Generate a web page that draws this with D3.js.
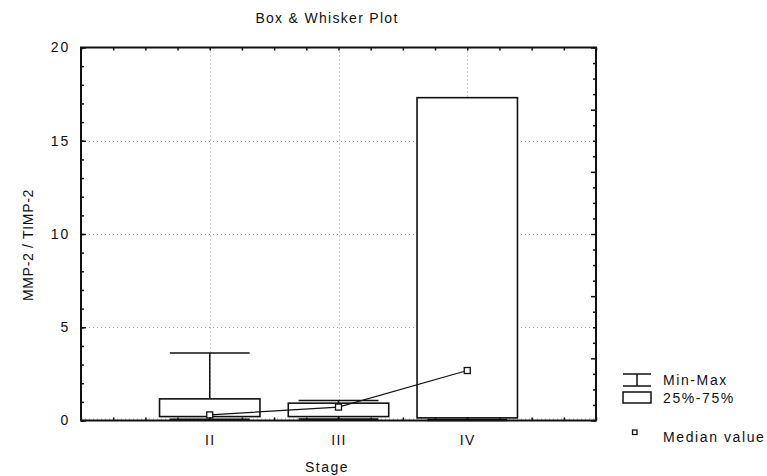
<!DOCTYPE html>
<html>
<head>
<meta charset="utf-8">
<script src="https://cdn.jsdelivr.net/npm/d3@7"></script>
<style>
  html, body { margin: 0; padding: 0; background: #fff; }
  svg text { font-family: "Liberation Sans", Arial, sans-serif; font-size: 14px; fill: #111; letter-spacing: 1.3px; }
</style>
</head>
<body>
<svg id="chart" width="767" height="476"></svg>
<script>
// Box & whisker summary for MMP-2 / TIMP-2 by tumour stage
const stages = ["II", "III", "IV"];
const minVals = [0.04, 0.05, 0.03];
const q1Vals = [0.21, 0.21, 0.14];
const medianVals = [0.30, 0.72, 2.68];
const q3Vals = [1.16, 0.93, 17.31];
const maxVals = [3.62, 1.07, 17.31];
const yTicks = [0, 5, 10, 15, 20];
const legendLabels = ["Min-Max", "25%-75%", "Median value"];

const svg = d3.select("#chart");
const L = 81, R = 596, T = 47.5, B = 420.5;

// categories sit at 1, 2, 3 on a 0..4 axis
const x = d3.scaleLinear().domain([0, 4]).range([L, R]);
const y = d3.scaleLinear().domain([0, 20]).range([B, T]);
const boxHalf = 0.39, capHalf = 0.31;

const data = stages.map((s, i) => ({
  stage: s, pos: i + 1,
  min: minVals[i], q1: q1Vals[i], med: medianVals[i], q3: q3Vals[i], max: maxVals[i]
}));

// dotted grid
const grid = svg.append("g").attr("stroke", "#a0a0a0").attr("stroke-width", 1)
  .attr("stroke-dasharray", "1,3");
grid.selectAll("line.h").data(yTicks.filter(v => v > 0 && v < 20)).join("line")
  .attr("x1", L).attr("x2", R).attr("y1", d => Math.round(y(d)) + 0.5).attr("y2", d => Math.round(y(d)) + 0.5);
grid.append("line").attr("x1", L).attr("x2", R).attr("y1", B - 1.5).attr("y2", B - 1.5);
grid.selectAll("line.v").data(data).join("line")
  .attr("x1", d => Math.round(x(d.pos)) + 0.5).attr("x2", d => Math.round(x(d.pos)) + 0.5)
  .attr("y1", T).attr("y2", B);

// whiskers
const wk = svg.append("g").attr("stroke", "#111").attr("stroke-width", 1.5);
data.forEach(d => {
  wk.append("line").attr("x1", x(d.pos)).attr("x2", x(d.pos)).attr("y1", y(d.q3)).attr("y2", y(d.max));
  wk.append("line").attr("x1", x(d.pos)).attr("x2", x(d.pos)).attr("y1", y(d.q1)).attr("y2", y(d.min));
  wk.append("line").attr("x1", x(d.pos - capHalf)).attr("x2", x(d.pos + capHalf)).attr("y1", y(d.max)).attr("y2", y(d.max));
  wk.append("line").attr("x1", x(d.pos - capHalf)).attr("x2", x(d.pos + capHalf)).attr("y1", y(d.min)).attr("y2", y(d.min))
    .attr("stroke-width", 2.5);
});

// boxes
svg.append("g").selectAll("rect").data(data).join("rect")
  .attr("x", d => x(d.pos - boxHalf)).attr("width", d => x(d.pos + boxHalf) - x(d.pos - boxHalf))
  .attr("y", d => y(d.q3)).attr("height", d => y(d.q1) - y(d.q3))
  .attr("fill", "#fff").attr("stroke", "#111").attr("stroke-width", 1.6);

// median trend line and markers
svg.append("path").datum(data)
  .attr("d", d3.line().x(d => x(d.pos)).y(d => y(d.med)))
  .attr("fill", "none").attr("stroke", "#111").attr("stroke-width", 1.2);
svg.append("g").selectAll("rect").data(data).join("rect")
  .attr("x", d => x(d.pos) - 3).attr("y", d => y(d.med) - 3).attr("width", 6).attr("height", 6)
  .attr("fill", "#fff").attr("stroke", "#111").attr("stroke-width", 1.3);

// axes (ticks point inward)
function styleAxis(g) {
  g.select(".domain").remove();
  g.selectAll(".tick line").attr("stroke", "#111").attr("stroke-width", 1.5);
}
const quarter = d3.range(0, 17).map(k => k * 0.25);
svg.append("g").attr("transform", `translate(0,${T})`)
  .call(d3.axisTop(x).tickValues(quarter).tickSize(-3).tickFormat("")).call(styleAxis);
svg.append("g").attr("transform", `translate(0,${B})`)
  .call(d3.axisBottom(x).tickValues(quarter).tickSize(-3).tickFormat("")).call(styleAxis);
svg.append("g").attr("transform", `translate(0,${B})`)
  .call(d3.axisBottom(x).tickValues(data.map(d => d.pos)).tickSize(0).tickPadding(15)
    .tickFormat((v, i) => stages[i])).call(styleAxis)
  .selectAll("text").attr("font-size", 14).attr("font-family", null);
svg.append("g").attr("transform", `translate(${L},0)`)
  .call(d3.axisLeft(y).tickValues(d3.range(0, 21)).tickSize(-3).tickFormat("")).call(styleAxis);
svg.append("g").attr("transform", `translate(${L},0)`)
  .call(d3.axisLeft(y).tickValues(yTicks).tickSize(-5).tickPadding(11).tickFormat(d3.format("d"))).call(styleAxis)
  .selectAll("text").attr("font-size", 14).attr("font-family", null).style("letter-spacing", "1.8px");
const rightTicks = d3.range(0, 25).map(k => k * 20 / 24);
svg.append("g").attr("transform", `translate(${R},0)`)
  .call(d3.axisRight(y).tickValues(rightTicks.filter((v, k) => k % 4 !== 0)).tickSize(-3).tickFormat("")).call(styleAxis);
svg.append("g").attr("transform", `translate(${R},0)`)
  .call(d3.axisRight(y).tickValues(rightTicks.filter((v, k) => k % 4 === 0)).tickSize(-5).tickFormat("")).call(styleAxis);

// frame
svg.append("rect").attr("x", L).attr("y", T).attr("width", R - L).attr("height", B - T)
  .attr("fill", "none").attr("stroke", "#111").attr("stroke-width", 2);

// titles
svg.append("text").attr("x", 327).attr("y", 22.5).attr("text-anchor", "middle").text("Box & Whisker Plot");
svg.append("text").attr("x", 327).attr("y", 472).attr("text-anchor", "middle").style("letter-spacing", "1.5px").text("Stage");
svg.append("text").attr("transform", "translate(33,245) rotate(-90)").attr("text-anchor", "middle")
  .style("letter-spacing", "0.7px").text("MMP-2 / TIMP-2");

// legend
const lg = svg.append("g").attr("stroke", "#111").attr("stroke-width", 1.5).attr("fill", "none");
lg.append("line").attr("x1", 623).attr("x2", 651).attr("y1", 374).attr("y2", 374);
lg.append("line").attr("x1", 623).attr("x2", 651).attr("y1", 386).attr("y2", 386);
lg.append("line").attr("x1", 637).attr("x2", 637).attr("y1", 374).attr("y2", 386);
lg.append("rect").attr("x", 623).attr("y", 392).attr("width", 28).attr("height", 11).attr("fill", "#fff");
lg.append("rect").attr("x", 632.5).attr("y", 430).attr("width", 4.5).attr("height", 4.5).attr("stroke-width", 1.3);
const legendY = [385, 403, 442];
svg.append("g").selectAll("text").data(legendLabels).join("text")
  .attr("x", 663).attr("y", (d, i) => legendY[i]).style("letter-spacing", "1.6px").text(d => d);
</script>
</body>
</html>
